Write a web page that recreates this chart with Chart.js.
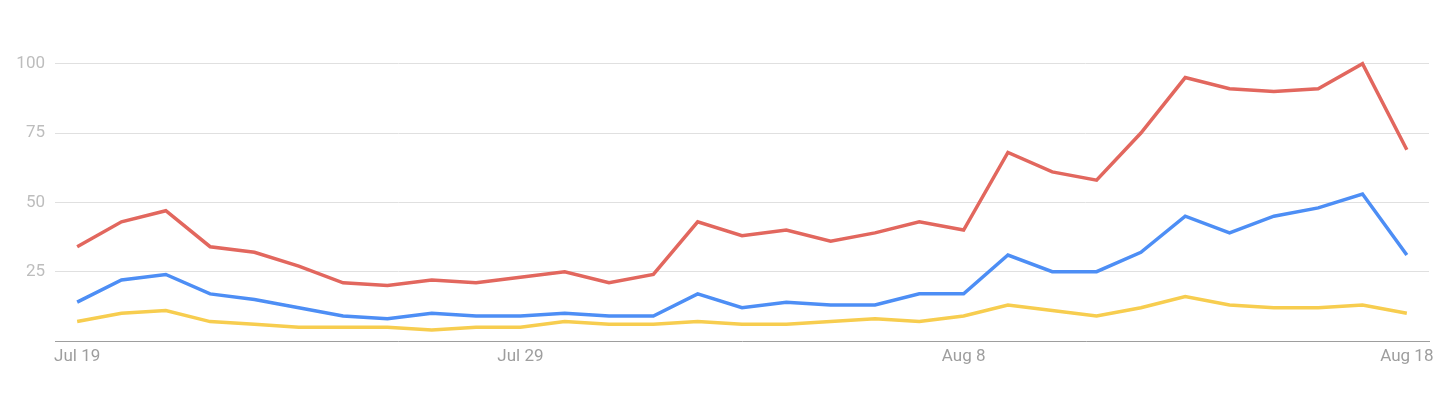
<!DOCTYPE html>
<html>
<head>
<meta charset="utf-8">
<script src="https://cdn.jsdelivr.net/npm/chart.js@4"></script>
<style>
  body { margin: 0; background: #fff; }
  canvas { display: block; }
</style>
</head>
<body>
<canvas id="trend" width="1452" height="404"></canvas>
<script>
const days = [
  "Jul 19", "Jul 20", "Jul 21", "Jul 22", "Jul 23", "Jul 24", "Jul 25", "Jul 26",
  "Jul 27", "Jul 28", "Jul 29", "Jul 30", "Jul 31", "Aug 1", "Aug 2", "Aug 3",
  "Aug 4", "Aug 5", "Aug 6", "Aug 7", "Aug 8", "Aug 9", "Aug 10", "Aug 11",
  "Aug 12", "Aug 13", "Aug 14", "Aug 15", "Aug 16", "Aug 17", "Aug 18"
];
const shownDays = ["Jul 19", "Jul 29", "Aug 8", "Aug 18"];
const yTicks = [0, 25, 50, 75, 100];

const redValues = [34, 43, 47, 34, 32, 27, 21, 20, 22, 21, 23, 25, 21, 24, 43, 38,
  40, 36, 39, 43, 40, 68, 61, 58, 75, 95, 91, 90, 91, 100, 69];
const blueValues = [14, 22, 24, 17, 15, 12, 9, 8, 10, 9, 9, 10, 9, 9, 17, 12,
  14, 13, 13, 17, 17, 31, 25, 25, 32, 45, 39, 45, 48, 53, 31];
const yellowValues = [7, 10, 11, 7, 6, 5, 5, 5, 4, 5, 5, 7, 6, 6, 7, 6,
  6, 7, 8, 7, 9, 13, 11, 9, 12, 16, 13, 12, 12, 13, 10];

function line(values, color) {
  return {
    data: values,
    borderColor: color,
    borderWidth: 3.5,
    borderJoinStyle: "miter",
    pointRadius: 0,
    tension: 0,
    fill: false
  };
}

const config = {
  type: "line",
  data: {
    labels: days,
    datasets: [
      line(redValues, "#e2675e"),
      line(blueValues, "#4d8ef5"),
      line(yellowValues, "#f7cd4f")
    ]
  },
  options: {
    responsive: false,
    animation: false,
    devicePixelRatio: 1,
    layout: { padding: { top: 36, right: 23, bottom: 0, left: 0 } },
    plugins: { legend: { display: false }, tooltip: { enabled: false } },
    scales: {
      x: {
        offset: true,
        grid: { display: false, drawTicks: false },
        border: { color: "#9e9e9e", width: 1 },
        ticks: {
          autoSkip: false,
          maxRotation: 0,
          padding: 6,
          color: "#9e9e9e",
          font: { family: "Roboto", size: 17 },
          callback: function (v) {
            const lab = this.getLabelForValue(v);
            return shownDays.includes(lab) ? lab : "";
          }
        },
        afterFit: function (s) { s.height = 63; }
      },
      y: {
        min: 0,
        max: 110,
        border: { display: false },
        grid: {
          drawTicks: false,
          color: (c) => (c.tick && c.tick.value === 0 ? "rgba(0,0,0,0)" : "#e0e0e0"),
          lineWidth: 1
        },
        ticks: {
          padding: 10,
          color: "#bdbdbd",
          font: { family: "Roboto", size: 17 },
          callback: (v) => (v === 0 ? "" : v)
        },
        afterBuildTicks: function (s) {
          s.ticks = yTicks.map((v) => ({ value: v }));
        },
        afterFit: function (s) { s.width = 55; }
      }
    }
  }
};

new Chart(document.getElementById("trend"), config);
</script>
</body>
</html>
